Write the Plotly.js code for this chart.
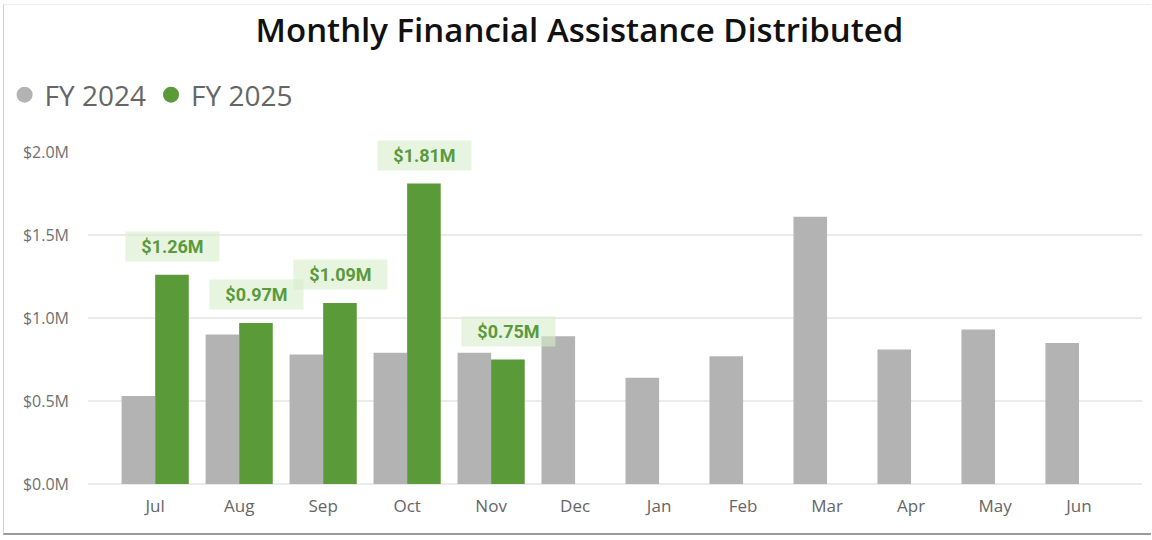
<!DOCTYPE html>
<html>
<head>
<meta charset="utf-8">
<script src="https://cdn.plot.ly/plotly-3.0.1.min.js"></script>
<style>
  html, body { margin: 0; padding: 0; background: #ffffff; }
  #wrap { position: absolute; left: 0; top: 0; width: 1152px; height: 540px; overflow: hidden; background: #fff; }
  #frame { position: absolute; left: 3px; top: 4px; width: 1148px; height: 531px;
           border-left: 1px solid #d0d0d0; border-top: 1px solid #eeeeee; border-bottom: 2px solid #9a9a9a; box-sizing: border-box; }
  #chart { position: absolute; left: 0; top: 0; width: 1152px; height: 540px; }
</style>
</head>
<body>
<div id="wrap">
  <div id="chart"></div>
  <div id="frame"></div>
</div>
<script>
// Data (values in $ millions)
const months = ["Jul","Aug","Sep","Oct","Nov","Dec","Jan","Feb","Mar","Apr","May","Jun"];
const fy2024 = [0.53, 0.90, 0.78, 0.79, 0.79, 0.89, 0.64, 0.77, 1.61, 0.81, 0.93, 0.85];
const fy2025 = [1.26, 0.97, 1.09, 1.81, 0.75, null, null, null, null, null, null, null];
const seriesNames = ["FY 2024", "FY 2025"];
const yTicks = [0, 0.5, 1.0, 1.5, 2.0];
const yTickText = yTicks.map(v => "$" + v.toFixed(1) + "M");

const GRAY = "#b3b3b3";
const GREEN = "#5a9a38";

const traces = [
  { type: "bar", name: seriesNames[0], x: months, y: fy2024, marker: { color: GRAY }, showlegend: false, hoverinfo: "x+y" },
  { type: "bar", name: seriesNames[1], x: months, y: fy2025, marker: { color: GREEN }, showlegend: false, hoverinfo: "x+y" },
  // legend-only entries with round markers
  { type: "scatter", mode: "markers", name: seriesNames[0], x: [null], y: [null], marker: { color: GRAY, size: 16, symbol: "circle" }, showlegend: true },
  { type: "scatter", mode: "markers", name: seriesNames[1], x: [null], y: [null], marker: { color: GREEN, size: 16, symbol: "circle" }, showlegend: true }
];

const annotations = [];
fy2025.forEach((v, i) => {
  if (v === null) return;
  annotations.push({
    x: months[i], y: v, xref: "x", yref: "y",
    text: "$" + v.toFixed(2) + "M",
    showarrow: false,
    xshift: 17, yshift: 13, yanchor: "bottom", xanchor: "center",
    width: 93, height: 29, borderpad: 0,
    bgcolor: "rgba(214,236,204,0.6)",
    font: { family: "Roboto, 'DejaVu Sans', sans-serif", size: 18, color: "#5a9a3c", weight: 700 }
  });
});

const layout = {
  width: 1152, height: 540,
  paper_bgcolor: "rgba(0,0,0,0)", plot_bgcolor: "#ffffff",
  margin: { l: 88, r: 10, t: 152, b: 56 },
  title: {
    text: "Monthly Financial Assistance Distributed",
    x: 0.503, xref: "container", xanchor: "center",
    y: 1 - 30 / 540, yref: "container", yanchor: "middle",
    font: { family: "'Open Sans', 'Noto Sans', sans-serif", size: 33, color: "#111111", weight: 600 }
  },
  showlegend: true,
  legend: {
    orientation: "h", xref: "container", yref: "container",
    x: 0.004, xanchor: "left", y: 1 - 95 / 540, yanchor: "middle",
    font: { family: "'Open Sans', 'Noto Sans', sans-serif", size: 28, color: "#666666" },
    itemwidth: 30, tracegroupgap: 0, bgcolor: "rgba(0,0,0,0)"
  },
  barmode: "group", bargap: 0.2, bargroupgap: 0,
  xaxis: {
    type: "category", range: [-0.80, 11.75],
    showgrid: false, zeroline: false, showline: false, ticks: "",
    ticklabelstandoff: 10,
    tickfont: { family: "'Open Sans', 'Noto Sans', sans-serif", size: 17, color: "#666666" },
    fixedrange: true
  },
  yaxis: {
    range: [0, 2.0],
    tickmode: "array", tickvals: yTicks, ticktext: yTickText,
    showgrid: true, gridcolor: "#ebebeb", gridwidth: 1.5,
    zeroline: true, zerolinecolor: "#ebebeb", zerolinewidth: 1.5,
    showline: false, ticks: "",
    ticklabelstandoff: 18,
    tickfont: { family: "'Open Sans', 'Noto Sans', sans-serif", size: 16, color: "#707070" },
    fixedrange: true
  },
  annotations: annotations,
  font: { family: "'Open Sans', sans-serif" }
};

Plotly.newPlot("chart", traces, layout, { displayModeBar: false, staticPlot: true });
</script>
</body>
</html>
